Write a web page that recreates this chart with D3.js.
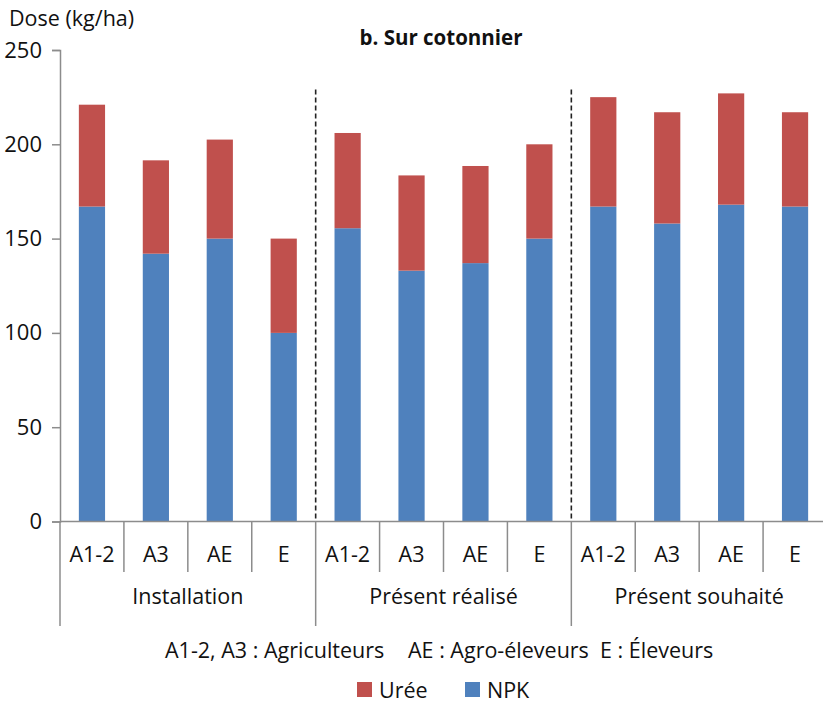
<!DOCTYPE html>
<html>
<head>
<meta charset="utf-8">
<script src="https://cdn.jsdelivr.net/npm/d3@7"></script>
<style>
  body { margin: 0; background: #fff; }
  svg text { font-family: "Open Sans", sans-serif; fill: #111; }
</style>
</head>
<body>
<div id="chart"></div>
<script>
const groups = ["Installation", "Présent réalisé", "Présent souhaité"];
const types = ["A1-2", "A3", "AE", "E"];
// values per group, in the order of types
const npk = [
  [167, 142, 150, 100],
  [155.5, 133, 137, 150],
  [167, 158, 168, 167]
];
const uree = [
  [54, 49.5, 52.5, 50],
  [50.5, 50.5, 51.5, 50],
  [58, 59, 59, 50]
];
const yTicks = [0, 50, 100, 150, 200, 250];

const W = 823, H = 705;
const mLeft = 60, mRight = 827, mTop = 50, mBottom = 521.5;
const fs = "21.5px";

const svg = d3.select("#chart").append("svg").attr("width", W).attr("height", H);

const rows = [];
groups.forEach((g, gi) => types.forEach((t, ti) => {
  rows.push({key: g + "|" + t, group: g, type: t, npk: npk[gi][ti], uree: uree[gi][ti]});
}));

const x = d3.scaleBand().domain(rows.map(d => d.key)).range([mLeft, mRight])
  .paddingInner(0.59).paddingOuter(0.295);
const slot = d3.scaleBand().domain(rows.map(d => d.key)).range([mLeft, mRight]);
const y = d3.scaleLinear().domain([0, 250]).range([mBottom, mTop]);

const axisCol = "#8c8c8c";

// y axis
const yAxis = svg.append("g").attr("transform", `translate(${mLeft},0)`)
  .call(d3.axisLeft(y).tickValues(yTicks).tickSize(8).tickPadding(10));
yAxis.select(".domain").attr("stroke", axisCol).attr("stroke-width", 1.5);
yAxis.selectAll(".tick line").attr("stroke", axisCol).attr("stroke-width", 1.5);
yAxis.selectAll(".tick text").style("font-size", "22px").style("font-family", "'Open Sans', sans-serif").attr("fill", "#111");

// bars
const bar = svg.append("g").selectAll("g").data(rows).join("g");
bar.append("rect")
  .attr("x", d => x(d.key)).attr("width", x.bandwidth())
  .attr("y", d => y(d.npk)).attr("height", d => y(0) - y(d.npk))
  .attr("fill", "#4F81BD");
bar.append("rect")
  .attr("x", d => x(d.key)).attr("width", x.bandwidth())
  .attr("y", d => y(d.npk + d.uree)).attr("height", d => y(d.npk) - y(d.npk + d.uree))
  .attr("fill", "#C0504D");

// dashed separators between groups
const sepTop = 229;
[1, 2].forEach(i => {
  const xs = slot(rows[i * 4].key);
  svg.append("line").attr("x1", xs).attr("x2", xs)
    .attr("y1", y(sepTop)).attr("y2", y(0))
    .attr("stroke", "#222").attr("stroke-width", 1.6).attr("stroke-dasharray", "5,3");
});

// x axis baseline
svg.append("line").attr("x1", mLeft).attr("x2", mRight).attr("y1", y(0)).attr("y2", y(0))
  .attr("stroke", axisCol).attr("stroke-width", 1.5);

// category ticks and labels
rows.forEach((d, i) => {
  const xs = slot(d.key);
  const long = i % 4 === 0;
  svg.append("line").attr("x1", xs).attr("x2", xs)
    .attr("y1", y(0)).attr("y2", long ? 626 : 572)
    .attr("stroke", axisCol).attr("stroke-width", 1.5);
  svg.append("text").attr("x", xs + slot.bandwidth() / 2).attr("y", 562)
    .attr("text-anchor", "middle").style("font-size", fs).text(d.type);
});
svg.append("line").attr("x1", mRight).attr("x2", mRight).attr("y1", y(0)).attr("y2", 626)
  .attr("stroke", axisCol).attr("stroke-width", 1.5);

// group labels
groups.forEach((g, gi) => {
  const x0 = slot(rows[gi * 4].key), x1 = slot(rows[gi * 4 + 3].key) + slot.bandwidth();
  svg.append("text").attr("x", (x0 + x1) / 2).attr("y", 604)
    .attr("text-anchor", "middle").style("font-size", fs).text(g);
});

// titles
svg.append("text").attr("x", 9).attr("y", 26).style("font-size", fs).text("Dose (kg/ha)");
svg.append("text").attr("x", 441).attr("y", 45).attr("text-anchor", "middle")
  .style("font-size", "20.5px").style("font-weight", "bold").text("b. Sur cotonnier");

// footnote
const notes = [
  {t: "A1-2, A3 : Agriculteurs", x: 165},
  {t: "AE : Agro-éleveurs", x: 408},
  {t: "E : Éleveurs", x: 600}
];
svg.selectAll(".note").data(notes).join("text").attr("class", "note")
  .attr("x", d => d.x).attr("y", 658).style("font-size", fs).text(d => d.t);

// legend
const legend = [
  {name: "Urée", color: "#C0504D", x: 357},
  {name: "NPK", color: "#4F81BD", x: 465}
];
const lg = svg.selectAll(".lg").data(legend).join("g").attr("class", "lg")
  .attr("transform", d => `translate(${d.x},682)`);
lg.append("rect").attr("width", 15).attr("height", 15).attr("fill", d => d.color);
lg.append("text").attr("x", 22).attr("y", 15.5).style("font-size", fs).text(d => d.name);
</script>
</body>
</html>
